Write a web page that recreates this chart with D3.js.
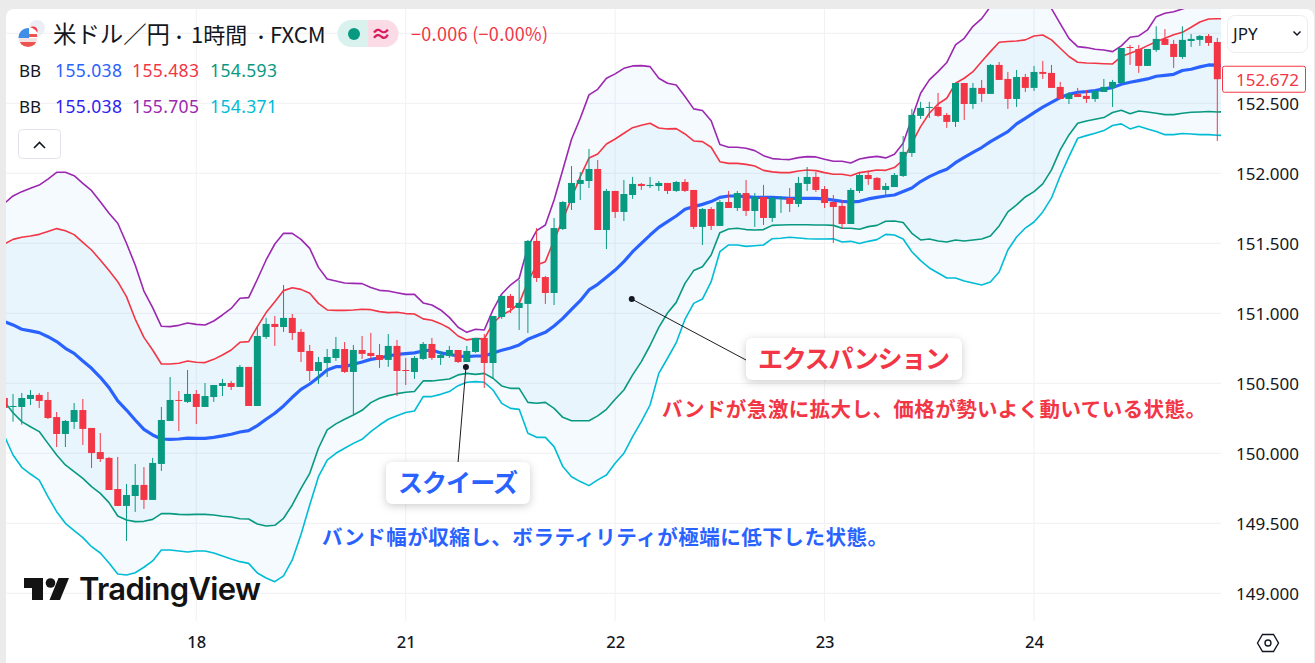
<!DOCTYPE html>
<html>
<head>
<meta charset="utf-8">
<title>米ドル／円 BB</title>
<script src="https://cdn.jsdelivr.net/npm/d3@7"></script>
<style>
html, body { margin: 0; padding: 0; background: #ebebeb; overflow: hidden; }
svg { display: block; position: absolute; left: 0; top: 0; }
text { font-family: "Noto Sans", "Noto Sans CJK JP", sans-serif; }
.jp { font-family: "Noto Sans CJK JP", sans-serif; }
.card { filter: drop-shadow(0 2px 4px rgba(0, 0, 0, 0.2)); }
</style>
</head>
<body>
<div id="chart-container"></div>
<script>
// Hourly candles, one entry per bar
var opens = [
  150.395, 150.331, 150.331, 150.388, 150.417, 150.381, 150.259, 150.138, 150.224, 150.309,
  150.181, 150.009, 149.967, 149.745, 149.624, 149.695, 149.774, 149.667, 149.924, 150.231,
  150.381, 150.367, 150.424, 150.331, 150.402, 150.481, 150.502, 150.474, 150.617, 150.338,
  150.831, 150.924, 150.902, 150.967, 150.867, 150.731, 150.588, 150.645, 150.681, 150.745,
  150.581, 150.738, 150.717, 150.702, 150.667, 150.767, 150.595, 150.581, 150.674, 150.781,
  150.681, 150.695, 150.738, 150.652, 150.724, 150.824, 150.645, 150.974, 151.124, 151.038,
  151.067, 151.517, 151.259, 151.145, 151.602, 151.788, 151.924, 151.945, 152.031, 151.595,
  151.874, 151.724, 151.845, 151.924, 151.909, 151.909, 151.931, 151.874, 151.938, 151.881,
  151.617, 151.745, 151.624, 151.795, 151.752, 151.859, 151.731, 151.831, 151.681, 151.817,
  151.824, 151.781, 151.924, 151.974, 151.888, 151.795, 151.767, 151.638, 151.874, 151.988,
  151.967, 151.881, 151.902, 151.981, 152.145, 152.41, 152.467, 152.474, 152.417, 152.367,
  152.645, 152.495, 152.61, 152.567, 152.774, 152.674, 152.531, 152.688, 152.61, 152.724,
  152.717, 152.617, 152.531, 152.567, 152.553, 152.531, 152.581, 152.61, 152.645, 152.902,
  152.888, 152.767, 152.881, 152.96, 152.924, 152.831, 152.945, 152.953, 152.981, 152.938
];
var closes = [
  150.324, 150.338, 150.395, 150.417, 150.374, 150.252, 150.138, 150.231, 150.309, 150.174,
  150.002, 149.959, 149.738, 149.624, 149.702, 149.774, 149.667, 149.931, 150.238, 150.381,
  150.374, 150.424, 150.331, 150.409, 150.488, 150.502, 150.474, 150.617, 150.338, 150.838,
  150.924, 150.902, 150.967, 150.859, 150.724, 150.588, 150.652, 150.688, 150.745, 150.581,
  150.738, 150.71, 150.695, 150.667, 150.767, 150.588, 150.588, 150.681, 150.781, 150.681,
  150.702, 150.738, 150.652, 150.731, 150.824, 150.645, 150.981, 151.124, 151.038, 151.074,
  151.517, 151.252, 151.145, 151.609, 151.795, 151.931, 151.952, 152.031, 151.595, 151.874,
  151.724, 151.852, 151.924, 151.909, 151.917, 151.931, 151.874, 151.938, 151.874, 151.617,
  151.745, 151.624, 151.795, 151.752, 151.859, 151.731, 151.831, 151.681, 151.824, 151.824,
  151.781, 151.931, 151.974, 151.881, 151.788, 151.759, 151.638, 151.881, 151.988, 151.959,
  151.881, 151.909, 151.988, 152.153, 152.417, 152.467, 152.474, 152.41, 152.367, 152.645,
  152.495, 152.61, 152.567, 152.774, 152.667, 152.531, 152.688, 152.61, 152.724, 152.71,
  152.61, 152.531, 152.567, 152.545, 152.531, 152.588, 152.617, 152.653, 152.895, 152.895,
  152.767, 152.888, 152.96, 152.917, 152.831, 152.953, 152.96, 152.981, 152.931, 152.672
];
var highs = [
  150.41, 150.424, 150.431, 150.452, 150.431, 150.438, 150.295, 150.238, 150.359, 150.388,
  150.181, 150.145, 149.974, 149.974, 149.781, 149.924, 149.902, 149.967, 150.331, 150.545,
  150.445, 150.595, 150.452, 150.502, 150.488, 150.531, 150.517, 150.631, 150.617, 150.905,
  150.967, 150.981, 151.202, 150.995, 150.888, 150.774, 150.688, 150.745, 150.831, 150.795,
  150.774, 150.838, 150.86, 150.781, 150.852, 150.81, 150.681, 150.695, 150.795, 150.824,
  150.731, 150.767, 150.738, 150.767, 150.824, 150.852, 150.981, 151.138, 151.138, 151.238,
  151.524, 151.609, 151.267, 151.681, 151.802, 152.052, 152.009, 152.174, 152.095, 151.888,
  151.874, 151.952, 151.974, 151.931, 151.974, 151.945, 151.931, 151.945, 151.959, 151.881,
  151.752, 151.759, 151.809, 151.874, 151.874, 151.952, 151.859, 151.917, 151.831, 151.838,
  151.895, 151.974, 152.045, 152.009, 151.909, 151.845, 151.809, 151.895, 152.009, 152.017,
  151.974, 151.931, 152.002, 152.267, 152.46, 152.51, 152.51, 152.574, 152.431, 152.645,
  152.645, 152.645, 152.667, 152.781, 152.795, 152.724, 152.738, 152.71, 152.767, 152.803,
  152.774, 152.653, 152.581, 152.61, 152.595, 152.595, 152.674, 152.667, 152.895, 152.917,
  152.917, 152.888, 153.05, 153.03, 152.953, 153.05, 152.995, 152.988, 152.995, 152.967
];
var lows = [
  150.31, 150.226, 150.205, 150.345, 150.324, 150.245, 150.045, 150.045, 150.174, 150.059,
  149.895, 149.938, 149.738, 149.624, 149.374, 149.581, 149.602, 149.667, 149.874, 150.231,
  150.159, 150.359, 150.209, 150.331, 150.367, 150.409, 150.452, 150.474, 150.338, 150.338,
  150.817, 150.767, 150.867, 150.809, 150.652, 150.517, 150.495, 150.545, 150.66, 150.574,
  150.274, 150.674, 150.674, 150.61, 150.617, 150.41, 150.488, 150.531, 150.667, 150.667,
  150.631, 150.681, 150.645, 150.652, 150.717, 150.467, 150.531, 150.96, 151.002, 150.881,
  150.859, 151.224, 151.067, 151.059, 151.595, 151.738, 151.809, 151.895, 151.595, 151.459,
  151.681, 151.659, 151.817, 151.881, 151.895, 151.874, 151.852, 151.867, 151.867, 151.602,
  151.488, 151.595, 151.624, 151.752, 151.731, 151.695, 151.617, 151.631, 151.652, 151.717,
  151.724, 151.759, 151.874, 151.867, 151.752, 151.502, 151.602, 151.638, 151.859, 151.917,
  151.881, 151.838, 151.902, 151.974, 152.117, 152.388, 152.395, 152.403, 152.324, 152.331,
  152.381, 152.46, 152.51, 152.567, 152.667, 152.46, 152.474, 152.581, 152.588, 152.674,
  152.61, 152.531, 152.495, 152.545, 152.503, 152.51, 152.581, 152.474, 152.645, 152.774,
  152.717, 152.767, 152.867, 152.917, 152.753, 152.817, 152.903, 152.91, 152.91, 152.231
];

// Bollinger band lines, the last entry runs one bar past the last candle
var bbMiddle = [
  150.94, 150.917, 150.886, 150.874, 150.862, 150.833, 150.798, 150.75, 150.714, 150.659,
  150.607, 150.543, 150.469, 150.374, 150.309, 150.238, 150.171, 150.131, 150.102, 150.1,
  150.102, 150.109, 150.107, 150.107, 150.114, 150.124, 150.136, 150.152, 150.162, 150.198,
  150.243, 150.286, 150.338, 150.4, 150.457, 150.495, 150.543, 150.595, 150.619, 150.619,
  150.636, 150.652, 150.671, 150.681, 150.695, 150.707, 150.712, 150.717, 150.731, 150.738,
  150.717, 150.707, 150.695, 150.69, 150.695, 150.695, 150.717, 150.736, 150.752, 150.774,
  150.814, 150.84, 150.864, 150.909, 150.964, 151.028, 151.09, 151.167, 151.207, 151.257,
  151.309, 151.369, 151.44, 151.5, 151.559, 151.614, 151.655, 151.695, 151.743, 151.762,
  151.778, 151.798, 151.828, 151.838, 151.838, 151.833, 151.828, 151.828, 151.828, 151.824,
  151.821, 151.821, 151.821, 151.821, 151.817, 151.809, 151.8, 151.795, 151.8, 151.817,
  151.828, 151.838, 151.845, 151.87, 151.895, 151.941, 151.976, 152.005, 152.029, 152.076,
  152.114, 152.15, 152.184, 152.226, 152.262, 152.298, 152.353, 152.393, 152.434, 152.472,
  152.507, 152.541, 152.564, 152.579, 152.584, 152.591, 152.603, 152.612, 152.636, 152.65,
  152.662, 152.674, 152.693, 152.7, 152.707, 152.734, 152.743, 152.76, 152.774, 152.772, 152.77
];
var bbUpperInner = [
  151.495, 151.528, 151.543, 151.552, 151.564, 151.585, 151.605, 151.59, 151.562, 151.507,
  151.452, 151.381, 151.305, 151.226, 151.119, 150.959, 150.828, 150.738, 150.638, 150.638,
  150.643, 150.659, 150.65, 150.648, 150.671, 150.702, 150.738, 150.793, 150.798, 150.905,
  151.005, 151.083, 151.162, 151.183, 151.171, 151.143, 151.071, 151.024, 151.021, 151.021,
  151.024, 151.029, 151.026, 151.012, 151.005, 151.007, 150.998, 150.995, 150.96, 150.95,
  150.926, 150.893, 150.838, 150.81, 150.819, 150.817, 150.93, 150.988, 151.019, 151.071,
  151.226, 151.345, 151.369, 151.524, 151.667, 151.824, 151.976, 152.109, 152.138, 152.209,
  152.245, 152.286, 152.326, 152.343, 152.357, 152.324, 152.317, 152.319, 152.281, 152.231,
  152.226, 152.186, 152.083, 152.071, 152.071, 152.064, 152.052, 152.021, 152.01, 152.005,
  152.005, 152.017, 152.024, 152.019, 152.005, 151.993, 151.993, 151.983, 152.005, 152.014,
  152.024, 152.021, 152.041, 152.095, 152.216, 152.333, 152.429, 152.495, 152.536, 152.643,
  152.679, 152.726, 152.798, 152.869, 152.936, 152.941, 152.945, 152.953, 152.981, 152.988,
  152.953, 152.893, 152.834, 152.793, 152.788, 152.786, 152.783, 152.781, 152.834, 152.857,
  152.881, 152.912, 152.94, 152.964, 152.99, 153.007, 153.043, 153.081, 153.102, 153.104, 153.105
];
var bbLowerInner = [
  150.369, 150.29, 150.226, 150.19, 150.155, 150.071, 149.988, 149.917, 149.869, 149.821,
  149.762, 149.714, 149.648, 149.552, 149.524, 149.512, 149.514, 149.528, 149.569, 149.569,
  149.564, 149.562, 149.564, 149.564, 149.559, 149.55, 149.545, 149.533, 149.531, 149.495,
  149.481, 149.486, 149.536, 149.631, 149.75, 149.857, 150.036, 150.167, 150.21, 150.243,
  150.274, 150.307, 150.362, 150.393, 150.412, 150.426, 150.436, 150.441, 150.517, 150.517,
  150.524, 150.531, 150.56, 150.571, 150.564, 150.571, 150.536, 150.481, 150.464, 150.464,
  150.364, 150.357, 150.364, 150.321, 150.257, 150.233, 150.233, 150.233, 150.267, 150.314,
  150.386, 150.452, 150.56, 150.655, 150.77, 150.9, 151.002, 151.078, 151.214, 151.305,
  151.333, 151.417, 151.576, 151.602, 151.607, 151.598, 151.595, 151.598, 151.628, 151.631,
  151.633, 151.633, 151.633, 151.631, 151.631, 151.628, 151.607, 151.607, 151.6, 151.619,
  151.628, 151.657, 151.659, 151.648, 151.571, 151.524, 151.531, 151.516, 151.509, 151.524,
  151.516, 151.524, 151.531, 151.552, 151.624, 151.724, 151.774, 151.831, 151.869, 151.924,
  152.024, 152.167, 152.274, 152.357, 152.374, 152.386, 152.398, 152.434, 152.45, 152.426,
  152.445, 152.438, 152.429, 152.419, 152.419, 152.429, 152.436, 152.438, 152.441, 152.438, 152.44
];
var bbUpperOuter = [
  151.785, 151.838, 151.869, 151.893, 151.916, 151.959, 152.007, 152.007, 151.983, 151.928,
  151.876, 151.797, 151.714, 151.643, 151.5, 151.345, 151.159, 151.04, 150.907, 150.905,
  150.914, 150.931, 150.921, 150.916, 150.945, 150.988, 151.035, 151.107, 151.112, 151.243,
  151.381, 151.495, 151.571, 151.571, 151.528, 151.464, 151.328, 151.245, 151.231, 151.216,
  151.214, 151.212, 151.185, 151.164, 151.159, 151.147, 151.135, 151.135, 151.074, 151.059,
  151.024, 150.971, 150.9, 150.864, 150.886, 150.881, 151.024, 151.138, 151.202, 151.25,
  151.476, 151.59, 151.631, 151.809, 152.026, 152.243, 152.393, 152.56, 152.6, 152.679,
  152.71, 152.75, 152.767, 152.769, 152.762, 152.679, 152.643, 152.631, 152.548, 152.46,
  152.448, 152.376, 152.205, 152.186, 152.186, 152.179, 152.162, 152.126, 152.105, 152.1,
  152.098, 152.112, 152.119, 152.117, 152.1, 152.086, 152.086, 152.074, 152.102, 152.114,
  152.121, 152.11, 152.136, 152.214, 152.393, 152.572, 152.667, 152.726, 152.791, 152.917,
  152.964, 153.05, 153.105, 153.191, 153.273, 153.263, 153.241, 153.233, 153.254, 153.246,
  153.176, 153.069, 152.964, 152.905, 152.898, 152.886, 152.881, 152.869, 152.91, 152.972,
  152.981, 153.024, 153.119, 153.143, 153.154, 153.174, 153.193, 153.24, 153.266, 153.27, 153.27
];
var bbLowerOuter = [
  150.124, 149.988, 149.9, 149.852, 149.809, 149.69, 149.583, 149.5, 149.448, 149.398,
  149.333, 149.288, 149.216, 149.138, 149.131, 149.147, 149.186, 149.231, 149.309, 149.309,
  149.302, 149.295, 149.302, 149.302, 149.288, 149.266, 149.245, 149.226, 149.214, 149.145,
  149.109, 149.083, 149.124, 149.238, 149.42, 149.631, 149.833, 149.952, 150.0, 150.036,
  150.071, 150.1, 150.155, 150.202, 150.243, 150.269, 150.291, 150.302, 150.405, 150.405,
  150.421, 150.441, 150.483, 150.507, 150.512, 150.507, 150.452, 150.357, 150.321, 150.314,
  150.143, 150.114, 150.114, 150.048, 149.905, 149.833, 149.798, 149.769, 149.81, 149.845,
  149.929, 150.0, 150.119, 150.226, 150.345, 150.571, 150.679, 150.79, 150.957, 151.071,
  151.102, 151.226, 151.44, 151.488, 151.488, 151.478, 151.483, 151.488, 151.533, 151.536,
  151.543, 151.538, 151.533, 151.531, 151.531, 151.533, 151.509, 151.514, 151.498, 151.514,
  151.526, 151.564, 151.559, 151.531, 151.44, 151.376, 151.324, 151.288, 151.252, 151.252,
  151.231, 151.216, 151.202, 151.224, 151.295, 151.452, 151.545, 151.609, 151.652, 151.724,
  151.824, 151.981, 152.119, 152.25, 152.269, 152.286, 152.305, 152.341, 152.353, 152.317,
  152.336, 152.317, 152.298, 152.276, 152.276, 152.284, 152.281, 152.276, 152.276, 152.272, 152.27
];

// Axis ticks
var priceTicks = [149, 149.5, 150, 150.5, 151, 151.5, 152, 152.5];
var priceGrid = [149, 149.5, 150, 150.5, 151, 151.5, 152, 152.5, 153];
var dateBars = [22, 46, 70, 94, 118];
var dateLabels = ["18", "21", "22", "23", "24"];
var lastPrice = 152.672;

// Annotation anchors: [bar, price]
var squeezePoint = [52.9, 150.616];
var expansionPoint = [71.9, 151.102];

var width = 1315, height = 663;
var green = "#089981", red = "#f23645", blue = "#2962ff";
var paneLeft = 6, paneRight = 1221, paneTop = 9, paneBottom = 621;

var svg = d3.select("#chart-container").append("svg")
    .attr("width", width)
    .attr("height", height);

var xScale = d3.scaleLinear().domain([0, 139]).range([4.3, 1217.3]);
var yScale = d3.scaleLinear().domain([149, 153]).range([593.3, 33.3]);
var bars = d3.range(opens.length);
var bandBars = d3.range(bbMiddle.length);

// White rounded panel on the grey page
svg.append("rect")
    .attr("x", paneLeft).attr("y", paneTop)
    .attr("width", 1308).attr("height", height)
    .attr("rx", 8)
    .attr("fill", "#ffffff");

svg.append("clipPath").attr("id", "pane")
  .append("rect")
    .attr("x", paneLeft).attr("y", paneTop)
    .attr("width", paneRight - paneLeft).attr("height", paneBottom - paneTop);

var pane = svg.append("g").attr("clip-path", "url(#pane)");

// Grid lines
pane.selectAll(".hgrid").data(priceGrid).enter().append("line")
    .attr("x1", paneLeft).attr("x2", paneRight)
    .attr("y1", function(d) { return yScale(d); })
    .attr("y2", function(d) { return yScale(d); })
    .attr("stroke", "#f0f1f4");
pane.selectAll(".vgrid").data(dateBars).enter().append("line")
    .attr("x1", function(d) { return xScale(d); })
    .attr("x2", function(d) { return xScale(d); })
    .attr("y1", paneTop).attr("y2", paneBottom)
    .attr("stroke", "#f0f1f4");

// Band fills, the two overlap to give the darker inner band
function bandFill(upper, lower) {
    var area = d3.area()
        .x(function(i) { return xScale(i); })
        .y0(function(i) { return yScale(lower[i]); })
        .y1(function(i) { return yScale(upper[i]); });
    pane.append("path")
        .attr("d", area(bandBars))
        .attr("fill", "rgba(33, 150, 243, 0.05)");
}
bandFill(bbUpperOuter, bbLowerOuter);
bandFill(bbUpperInner, bbLowerInner);

// Band lines
function bandLine(values, color, lineWidth) {
    var line = d3.line()
        .x(function(i) { return xScale(i); })
        .y(function(i) { return yScale(values[i]); });
    pane.append("path")
        .attr("d", line(bandBars))
        .attr("fill", "none")
        .attr("stroke", color)
        .attr("stroke-width", lineWidth)
        .attr("stroke-linejoin", "round");
}
bandLine(bbUpperOuter, "#9c27b0", 1.6);
bandLine(bbLowerOuter, "#00bcd4", 1.6);
bandLine(bbUpperInner, red, 1.6);
bandLine(bbLowerInner, green, 1.6);
bandLine(bbMiddle, blue, 3.2);

// Candles
function candleColor(i) {
    return closes[i] >= opens[i] ? green : red;
}
pane.selectAll(".wick").data(bars).enter().append("line")
    .attr("x1", function(i) { return xScale(i); })
    .attr("x2", function(i) { return xScale(i); })
    .attr("y1", function(i) { return yScale(highs[i]); })
    .attr("y2", function(i) { return yScale(lows[i]); })
    .attr("stroke", candleColor)
    .attr("stroke-width", 1);
pane.selectAll(".body").data(bars).enter().append("rect")
    .attr("x", function(i) { return xScale(i) - 3.5; })
    .attr("y", function(i) { return yScale(Math.max(opens[i], closes[i])); })
    .attr("width", 7)
    .attr("height", function(i) { return Math.max(1, Math.abs(yScale(opens[i]) - yScale(closes[i]))); })
    .attr("fill", candleColor);

// Price and time axes
var yAxis = d3.axisRight(yScale)
    .tickValues(priceTicks)
    .tickFormat(d3.format(".3f"))
    .tickSize(0)
    .tickPadding(15);
var yAxisG = svg.append("g").attr("transform", "translate(" + paneRight + ",0)").call(yAxis);

var xAxis = d3.axisBottom(xScale)
    .tickValues(dateBars)
    .tickFormat(function(d) { return dateLabels[dateBars.indexOf(d)]; })
    .tickSize(0)
    .tickPadding(15.5);
var xAxisG = svg.append("g").attr("transform", "translate(0," + paneBottom + ")").call(xAxis);

yAxisG.select(".domain").remove();
xAxisG.select(".domain").remove();
yAxisG.selectAll("text")
    .attr("fill", "#131722")
    .attr("dy", "0.38em")
    .style("font-size", "17px");
xAxisG.selectAll("text")
    .attr("fill", "#131722")
    .style("font-size", "16.5px")
    .style("font-weight", 500);

// Last price box
svg.append("rect")
    .attr("x", 1222.5).attr("y", yScale(lastPrice) - 13)
    .attr("width", 83).attr("height", 26)
    .attr("rx", 2)
    .attr("fill", "#ffffff")
    .attr("stroke", red);
svg.append("text")
    .attr("x", 1236).attr("y", yScale(lastPrice) + 6.6)
    .attr("fill", red)
    .style("font-size", "17px")
    .text(d3.format(".3f")(lastPrice));

// Currency selector
svg.append("rect")
    .attr("x", 1227.5).attr("y", 15.5)
    .attr("width", 80).attr("height", 37)
    .attr("rx", 7)
    .attr("fill", "#ffffff")
    .attr("stroke", "#ebecef");
svg.append("text")
    .attr("x", 1233).attr("y", 39.5)
    .attr("fill", "#131722")
    .style("font-size", "17px")
    .text("JPY");
svg.append("path")
    .attr("d", "M1293.5 31.5 L1297 35 L1300.5 31.5")
    .attr("fill", "none")
    .attr("stroke", "#131722")
    .attr("stroke-width", 1.5);

// Settings hexagon at the corner of the axes
svg.append("path")
    .attr("d", "M1257.5 643 L1262.5 634.5 L1273.5 634.5 L1278.5 643 L1273.5 651.5 L1262.5 651.5 Z")
    .attr("fill", "none")
    .attr("stroke", "#131722")
    .attr("stroke-width", 1.4);
svg.append("circle")
    .attr("cx", 1268).attr("cy", 643).attr("r", 3)
    .attr("fill", "none")
    .attr("stroke", "#131722")
    .attr("stroke-width", 1.4);

// Currency pair icon
svg.append("circle").attr("cx", 37).attr("cy", 28).attr("r", 8).attr("fill", "#eceef6");
svg.append("circle").attr("cx", 33).attr("cy", 31).attr("r", 4.5).attr("fill", red);
svg.append("clipPath").attr("id", "flag")
  .append("circle").attr("cx", 28).attr("cy", 37.5).attr("r", 9.5);
svg.append("circle").attr("cx", 28).attr("cy", 37.5).attr("r", 10.5).attr("fill", "#ffffff");
var flag = svg.append("g").attr("clip-path", "url(#flag)");
flag.append("rect").attr("x", 18).attr("y", 28).attr("width", 20).attr("height", 20).attr("fill", "#ffffff");
flag.append("rect").attr("x", 18).attr("y", 38).attr("width", 20).attr("height", 4).attr("fill", "#f4e3e5");
flag.append("rect").attr("x", 18).attr("y", 42).attr("width", 20).attr("height", 6).attr("fill", "#ef5350");
flag.append("rect").attr("x", 28).attr("y", 34).attr("width", 10).attr("height", 3).attr("fill", "#ef5350");
flag.append("rect").attr("x", 18).attr("y", 28).attr("width", 11).attr("height", 10).attr("fill", "#3f8fe8");

// Header text
function headerText(x, y, size, color, label, fitWidth, weight) {
    var t = svg.append("text")
        .attr("class", "jp")
        .attr("x", x).attr("y", y)
        .attr("fill", color)
        .style("font-size", size + "px")
        .text(label);
    if (fitWidth) {
        t.attr("textLength", fitWidth);
    }
    if (weight) {
        t.style("font-weight", weight);
    }
    return t;
}

// Title is one text, its parts placed apart as in the picture
var titleParts = [["米ドル／円", 53, 23.4], ["・", 171, 16], ["1時間", 191, 22], ["・", 253, 16], ["FXCM", 270, 22]];
var title = svg.append("text").attr("class", "jp").attr("y", 43).attr("fill", "#131722");
titleParts.forEach(function(part) {
    title.append("tspan")
        .attr("x", part[1])
        .style("font-size", part[2] + "px")
        .text(part[0]);
});
headerText(411, 41, 18, red, "−0.006 (−0.00%)", 137);

// Market status pill
svg.append("path").attr("d", "M351 20 H368 V47 H351 A13.5 13.5 0 0 1 351 20 Z").attr("fill", "#daf2ee");
svg.append("path").attr("d", "M368 20 H385 A13.5 13.5 0 0 1 385 47 H368 Z").attr("fill", "#fbdbe6");
svg.append("circle").attr("cx", 354).attr("cy", 34).attr("r", 6).attr("fill", green);
svg.append("text")
    .attr("x", 381).attr("y", 41)
    .attr("text-anchor", "middle")
    .attr("fill", "#d81b60")
    .style("font-size", "21px")
    .style("font-weight", 700)
    .text("≈");

// Indicator legend
var legendRows = [
    { y: 77, cells: [["155.038", blue], ["155.483", red], ["154.593", green]] },
    { y: 112.5, cells: [["155.038", "#2f22f0"], ["155.705", "#9c27b0"], ["154.371", "#00bcd4"]] }
];
var legendColumns = [55, 132, 210];
legendRows.forEach(function(row) {
    svg.append("text")
        .attr("x", 19).attr("y", row.y)
        .attr("fill", "#131722")
        .style("font-size", "17px")
        .text("BB");
    row.cells.forEach(function(cell, c) {
        svg.append("text")
            .attr("x", legendColumns[c]).attr("y", row.y)
            .attr("fill", cell[1])
            .attr("textLength", 67)
            .style("font-size", "17.5px")
            .text(cell[0]);
    });
});

// Collapse button
svg.append("rect")
    .attr("x", 18.5).attr("y", 129.5)
    .attr("width", 42).attr("height", 29)
    .attr("rx", 4)
    .attr("fill", "#ffffff")
    .attr("stroke", "#e0e3eb");
svg.append("path")
    .attr("d", "M34 148 L39.5 142.5 L45 148")
    .attr("fill", "none")
    .attr("stroke", "#131722")
    .attr("stroke-width", 1.6);

// Annotations
function callout(point, endX, endY, cardX, cardY, cardW, cardH, color, title, titleX, note, noteX, noteY, noteWidth) {
    svg.append("line")
        .attr("x1", xScale(point[0])).attr("y1", yScale(point[1]))
        .attr("x2", endX).attr("y2", endY)
        .attr("stroke", "#1d1d1d")
        .attr("stroke-width", 1);
    svg.append("circle")
        .attr("cx", xScale(point[0])).attr("cy", yScale(point[1]))
        .attr("r", 3)
        .attr("fill", "#131722");
    svg.append("rect")
        .attr("class", "card")
        .attr("x", cardX).attr("y", cardY)
        .attr("width", cardW).attr("height", cardH)
        .attr("rx", 6)
        .attr("fill", "#ffffff");
    headerText(titleX, cardY + 30, 25, color, title, cardW - 2 * (titleX - cardX), 700);
    headerText(noteX, noteY, 20.5, color, note, noteWidth, 700);
}
callout(squeezePoint, 458, 463, 386, 462, 144, 42, blue, "スクイーズ", 398,
    "バンド幅が収縮し、ボラティリティが極端に低下した状態。", 322, 544.5, 566);
callout(expansionPoint, 746, 360, 746, 338, 216, 42, red, "エクスパンション", 758,
    "バンドが急激に拡大し、価格が勢いよく動いている状態。", 662, 416.5, 544);

// TradingView mark
var logo = svg.append("g").attr("fill", "#131313");
logo.append("path").attr("d", "M24 578 H43 V600 H32 V588 H24 Z");
logo.append("circle").attr("cx", 50.5).attr("cy", 583).attr("r", 4.8);
logo.append("path").attr("d", "M58.5 578 H69 L60 600 H49.5 Z");
svg.append("text")
    .attr("x", 79).attr("y", 600)
    .attr("fill", "#131313")
    .attr("textLength", 182)
    .style("font-family", "Inter, sans-serif")
    .style("font-size", "31px")
    .style("font-weight", 600)
    .text("TradingView");
</script>
</body>
</html>
